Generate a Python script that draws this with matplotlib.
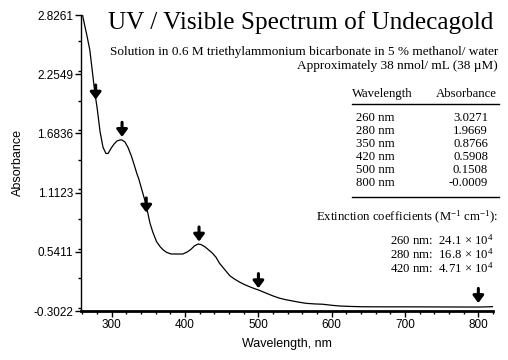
import matplotlib
matplotlib.use("Agg")
import matplotlib.pyplot as plt
from matplotlib.lines import Line2D
from matplotlib.ticker import MultipleLocator
import numpy as np

# ---- data ----
wavelength = [258, 262, 266, 270, 274, 277, 280, 284, 288, 292, 295, 299, 303, 307,
              311, 314, 318, 322, 327, 331, 334, 337, 341, 345, 349, 352, 356, 361,
              366, 370, 375, 381, 390, 397, 403, 408, 413, 418, 422, 427, 432, 437,
              442, 447, 454, 461, 467, 474, 481, 488, 495, 500, 511, 520, 529, 538,
              547, 556, 565, 577, 588, 600, 611, 625, 642, 670, 706, 750, 800, 812, 820]
absorbance = [2.90, 2.76, 2.63, 2.49, 2.25, 2.07, 1.93, 1.70, 1.55, 1.49, 1.49, 1.54,
              1.58, 1.61, 1.62, 1.62, 1.60, 1.55, 1.46, 1.37, 1.30, 1.24, 1.14, 1.04,
              0.92, 0.82, 0.73, 0.64, 0.59, 0.56, 0.535, 0.52, 0.52, 0.52, 0.54, 0.565,
              0.60, 0.616, 0.61, 0.59, 0.56, 0.53, 0.49, 0.43, 0.37, 0.31, 0.28, 0.25,
              0.225, 0.204, 0.185, 0.173, 0.141, 0.115, 0.093, 0.078, 0.066, 0.054,
              0.044, 0.038, 0.035, 0.025, 0.018, 0.014, 0.011, 0.010, 0.010, 0.009,
              0.008, 0.010, 0.012]

arrow_wl = [278, 314, 347, 419, 500, 800]
arrow_tip = [2.01, 1.65, 0.92, 0.64, 0.19, 0.047]

ytick_pos = [-0.0301, 0.5411, 1.1123, 1.6836, 2.2549, 2.8261]
ytick_labels = ["-0.3022", "0.5411", "1.1123", "1.6836", "2.2549", "2.8261"]
xtick_pos = [300, 400, 500, 600, 700, 800]

table_wl = ["260 nm", "280 nm", "350 nm", "420 nm", "500 nm", "800 nm"]
table_abs = ["3.0271", "1.9669", "0.8766", "0.5908", "0.1508", "-0.0009"]
ext_wl = ["260 nm:", "280 nm:", "420 nm:"]
ext_val = ["24.1", "16.8", "4.71"]

title = "UV / Visible Spectrum of Undecagold"
sub1 = "Solution in 0.6 M triethylammonium bicarbonate in 5 % methanol/ water"
sub2 = "Approximately 38 nmol/ mL (38 \u00b5M)"

# ---- figure ----
W, H = 508, 360
plt.rcParams["mathtext.fontset"] = "custom"
plt.rcParams["mathtext.rm"] = "Liberation Serif"
plt.rcParams["mathtext.it"] = "Liberation Serif:italic"
SERIF = "Liberation Serif"
SANS = "Liberation Sans"
FS = 9.2

fig = plt.figure(figsize=(W / 100, H / 100), dpi=100)
fig.patch.set_facecolor("white")

def fx(px):
    return px / W

def fy(py):
    return 1 - py / H

ax = fig.add_axes([fx(81), fy(311), fx(493) - fx(81), fy(15) - fy(311)])
ax.plot(wavelength, absorbance, color="black", lw=0.9)
ax.set_xlim(258, 820)
ax.set_ylim(ytick_pos[0], ytick_pos[-1])

for s in ("top", "right"):
    ax.spines[s].set_visible(False)
ax.spines["left"].set_linewidth(1.0)
ax.spines["bottom"].set_linewidth(2.0)

ax.set_yticks(ytick_pos)
ax.set_yticklabels(ytick_labels, fontfamily=SANS, fontsize=8.5)
ax.yaxis.set_minor_locator(MultipleLocator(0.5712 / 2))
ax.set_xticks(xtick_pos)
ax.set_xticklabels([str(v) for v in xtick_pos], fontfamily=SANS, fontsize=8.5)
ax.xaxis.set_minor_locator(MultipleLocator(20))
ax.tick_params(axis="both", which="major", direction="out", length=4, width=1, pad=1.5)
ax.tick_params(axis="both", which="minor", direction="out", length=2.5, width=1)

ax.set_xlabel("Wavelength, nm", fontfamily=SANS, fontsize=9, labelpad=5)
ax.set_ylabel("Absorbance", fontfamily=SANS, fontsize=9, labelpad=7)

for wl, tip in zip(arrow_wl, arrow_tip):
    ax.annotate("", xy=(wl, tip), xytext=(0, 10.5), textcoords="offset points",
                arrowprops=dict(arrowstyle="-|>,head_width=0.45,head_length=0.6",
                                lw=2.2, color="black", shrinkA=0, shrinkB=0,
                                mutation_scale=7))

# ---- texts ----
fig.text(fx(108), fy(29), title, fontfamily=SERIF, fontsize=18.2, ha="left", va="baseline")
fig.text(fx(498), fy(52), sub1, fontfamily=SERIF, fontsize=9.5, ha="right", va="center")
fig.text(fx(498), fy(66), sub2, fontfamily=SERIF, fontsize=9.5, ha="right", va="center")

fig.text(fx(352), fy(94), "Wavelength", fontfamily=SERIF, fontsize=FS, ha="left", va="center")
fig.text(fx(497), fy(94), "Absorbance", fontfamily=SERIF, fontsize=FS, ha="right", va="center")
fig.add_artist(Line2D([fx(352), fx(499)], [fy(104), fy(104)], color="black", lw=1))
row_y = [118, 131, 144, 157, 170, 183]
for yy, a, b in zip(row_y, table_wl, table_abs):
    fig.text(fx(356), fy(yy), a, fontfamily=SERIF, fontsize=FS, ha="left", va="center")
    fig.text(fx(488), fy(yy), b, fontfamily=SERIF, fontsize=FS, ha="right", va="center")
fig.add_artist(Line2D([fx(352), fx(499)], [fy(197), fy(197)], color="black", lw=1))

fig.text(fx(498), fy(217), r"Extinction coefficients (M$^{\mathrm{-1}}$ cm$^{\mathrm{-1}}$):",
         fontfamily=SERIF, fontsize=FS, ha="right", va="center")
ext_y = [240, 254, 268]
for yy, a, v in zip(ext_y, ext_wl, ext_val):
    fig.text(fx(494), fy(yy), a + "  " + v + r" $\times$ 10$^{\mathrm{4}}$",
             fontfamily=SERIF, fontsize=FS, ha="right", va="center")

fig.savefig("out.png", dpi=100, facecolor="white")
